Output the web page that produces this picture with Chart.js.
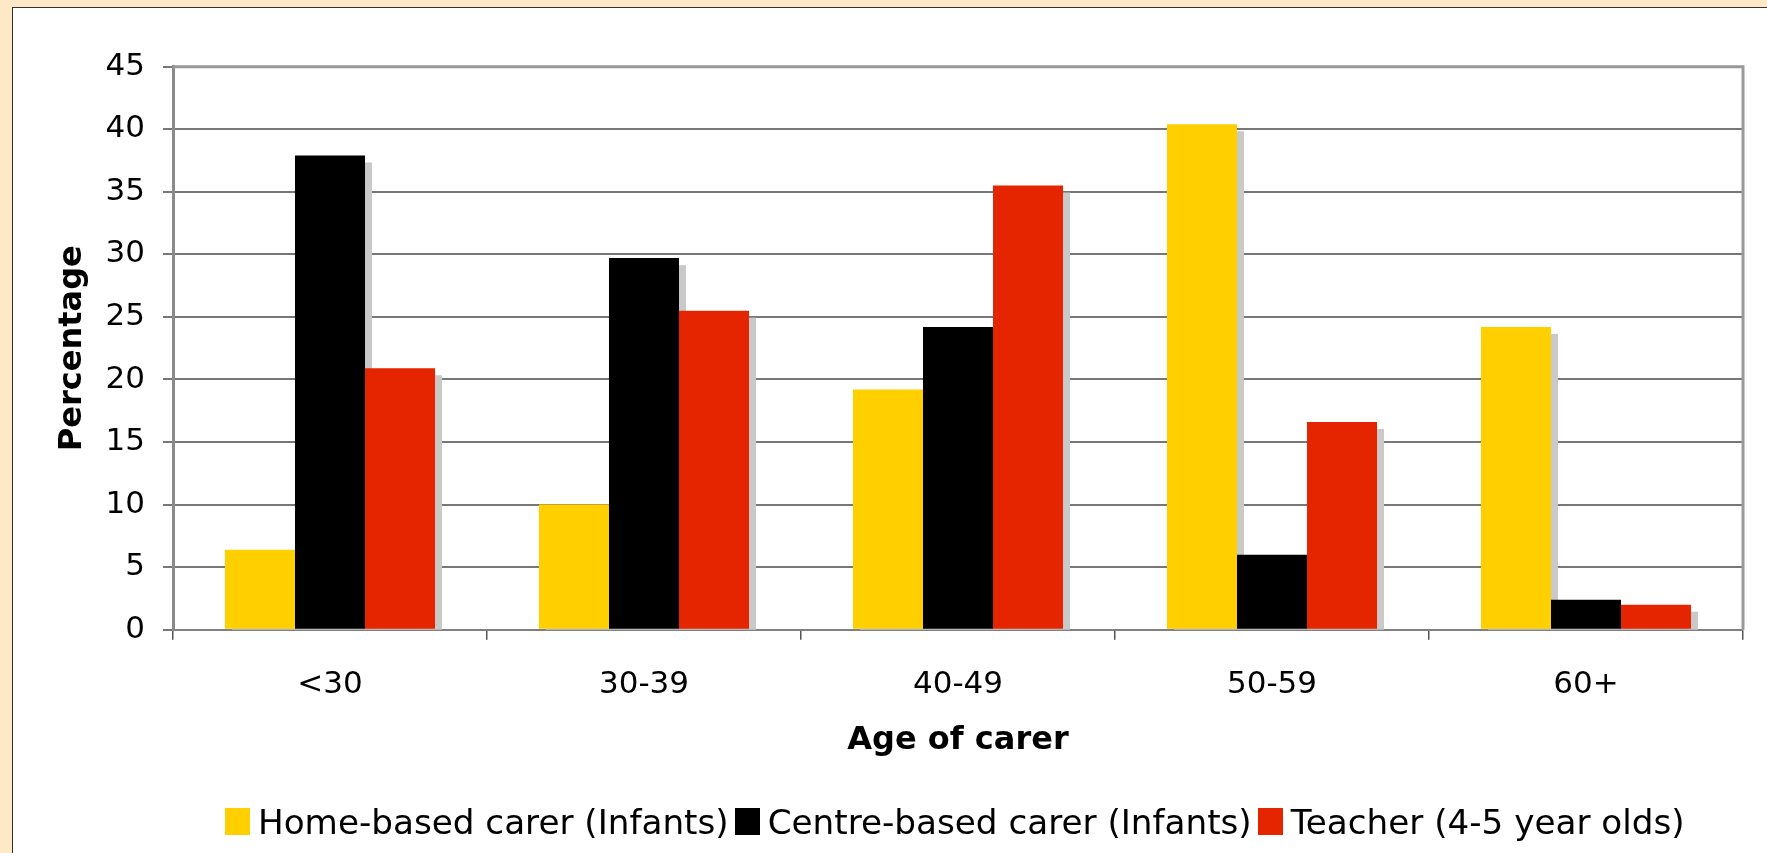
<!DOCTYPE html>
<html>
<head>
<meta charset="utf-8">
<script src="https://cdn.jsdelivr.net/npm/chart.js@4"></script>
<style>
    html, body { margin: 0; padding: 0; overflow: hidden; }
    body { background: #fde9c6; width: 1767px; height: 853px; position: relative; font-family: 'DejaVu Sans', Verdana, sans-serif; }
    .panel { position: absolute; left: 12px; top: 7px; right: 0; bottom: 0; background: #fff; border-left: 1.5px solid #333; border-top: 1.5px solid #333; }
    .wrap { position: absolute; left: 0; top: 0; width: 1767px; height: 853px; }
    .legend { position: absolute; left: 225px; top: 803px; white-space: nowrap; font-size: 34.2px; line-height: 38px; color: #000; display: flex; align-items: center; }
    .legend .item { display: flex; align-items: center; margin-right: 6px; }
    .legend .box { width: 25px; height: 27px; margin-right: 8px; margin-top: -2px; }
</style>
</head>
<body>
<div class="panel"></div>
<div class="wrap"><canvas id="chart"></canvas></div>
<div class="legend" id="legend"></div>

<script>
// ===== Veri =====
const categories = ['<30', '30-39', '40-49', '50-59', '60+'];
const seriesNames = ['Home-based carer (Infants)', 'Centre-based carer (Infants)', 'Teacher (4-5 year olds)'];
const homeBased = [6.4, 10.0, 19.2, 40.4, 24.2];
const centreBased = [37.9, 29.7, 24.2, 6.0, 2.4];
const teacher = [20.9, 25.5, 35.5, 16.6, 2.0];
const yTicks = [0, 5, 10, 15, 20, 25, 30, 35, 40, 45];

const colors = ['#ffcf00', '#000000', '#e52500'];
const FONT = "'DejaVu Sans', Verdana, sans-serif";
const SHADOW = 7;

// golge: once tum golgeler, sonra bar'lar (golge komsu bar'in altinda kalir)
const shadowPlugin = {
    id: 'barShadow',
    beforeDatasetsDraw(chart) {
        const { ctx, chartArea: a } = chart;
        ctx.save();
        ctx.beginPath();
        ctx.rect(a.left, a.top, a.right - a.left, a.bottom - a.top);
        ctx.clip();
        ctx.fillStyle = '#c9c9c9';
        chart.getSortedVisibleDatasetMetas().forEach(meta => {
            meta.data.forEach(bar => {
                const { x, y, base, width } = bar.getProps(['x', 'y', 'base', 'width'], true);
                const top = Math.min(y, base) + SHADOW;
                const h = Math.abs(base - y);
                ctx.fillRect(x - width / 2 + SHADOW, top, width, h);
            });
        });
        ctx.restore();
    }
};

// grafik alaninin ust ve sag kenari
const framePlugin = {
    id: 'frame',
    afterDraw(chart) {
        const { ctx, chartArea: a } = chart;
        ctx.save();
        ctx.strokeStyle = '#999999';
        ctx.lineWidth = 3;
        ctx.beginPath();
        ctx.moveTo(a.left, a.top);
        ctx.lineTo(a.right, a.top);
        ctx.lineTo(a.right, a.bottom);
        ctx.stroke();
        ctx.restore();
    }
};

function createChart() {
    const ctx = document.getElementById('chart').getContext('2d');
    const data = [homeBased, centreBased, teacher];

    new Chart(ctx, {
        type: 'bar',
        data: {
            labels: categories,
            datasets: data.map((values, i) => ({
                label: seriesNames[i],
                data: values,
                backgroundColor: colors[i],
                borderWidth: 0,
                categoryPercentage: 0.669,
                barPercentage: 1.0,
                clip: 0
            }))
        },
        options: {
            responsive: true,
            maintainAspectRatio: false,
            animation: false,
            layout: { padding: { left: 0, top: 66.7, right: 24, bottom: 93.3 } },
            plugins: {
                legend: { display: false },
                tooltip: { enabled: false }
            },
            scales: {
                x: {
                    z: 1,
                    afterFit: (scale) => { scale.height = 130; },
                    grid: { offset: true, drawOnChartArea: false, drawTicks: true, tickLength: 10, color: '#555555', lineWidth: 1.5 },
                    border: { color: '#808080', width: 2 },
                    ticks: { color: '#000', padding: 27, font: { family: FONT, size: 31 } },
                    title: {
                        display: true,
                        text: 'Age of carer',
                        color: '#000',
                        padding: { top: 0, bottom: 0 },
                        font: { family: FONT, size: 32, weight: 'bold' }
                    }
                },
                y: {
                    min: 0,
                    max: 45,
                    afterFit: (scale) => { scale.width = 173; },
                    afterBuildTicks: (scale) => { scale.ticks = yTicks.map(v => ({ value: v })); },
                    grid: { color: '#777777', lineWidth: 2, tickLength: 10 },
                    border: { color: '#8a8a8a', width: 3 },
                    ticks: { color: '#000', padding: 18, font: { family: FONT, size: 31 } },
                    title: {
                        display: true,
                        text: 'Percentage',
                        color: '#000',
                        padding: { top: 53, bottom: 0 },
                        font: { family: FONT, size: 32, weight: 'bold' }
                    }
                }
            }
        },
        plugins: [shadowPlugin, framePlugin]
    });
}

// HTML lejant
function renderLegend() {
    const el = document.getElementById('legend');
    el.innerHTML = seriesNames.map((name, i) => `
        <div class="item"><span class="box" style="background:${colors[i]}"></span><span>${name}</span></div>
    `).join('');
}

renderLegend();
createChart();
</script>
</body>
</html>
